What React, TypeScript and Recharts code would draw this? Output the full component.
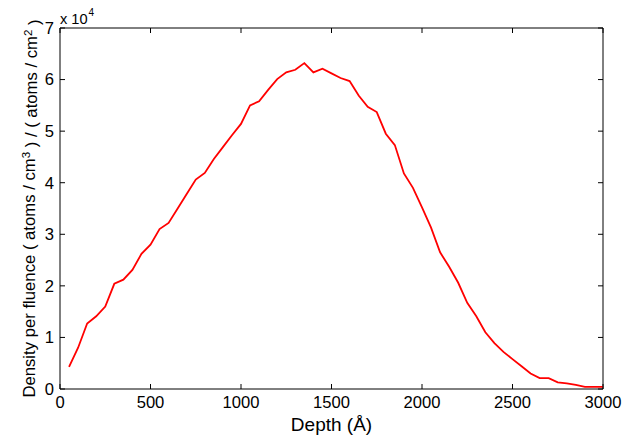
import { LineChart, Line, XAxis, YAxis, ReferenceArea, Label } from 'recharts'

// depth in Å, density in units of 1e4
const depth = [
  50, 100, 150, 200, 250, 300, 350, 400, 450, 500,
  550, 600, 650, 700, 750, 800, 850, 900, 950, 1000,
  1050, 1100, 1150, 1200, 1250, 1300, 1350, 1400, 1450, 1500,
  1550, 1600, 1650, 1700, 1750, 1800, 1850, 1900, 1950, 2000,
  2050, 2100, 2150, 2200, 2250, 2300, 2350, 2400, 2450, 2500,
  2550, 2600, 2650, 2700, 2750, 2800, 2850, 2900, 2950, 3000,
]
const densityE4 = [
  0.43, 0.8, 1.27, 1.41, 1.6, 2.04, 2.12, 2.31, 2.62, 2.8,
  3.1, 3.22, 3.5, 3.78, 4.06, 4.19, 4.46, 4.69, 4.92, 5.14,
  5.5, 5.58, 5.8, 6.01, 6.14, 6.19, 6.32, 6.14, 6.21, 6.12,
  6.03, 5.97, 5.69, 5.47, 5.37, 4.95, 4.73, 4.18, 3.9, 3.52,
  3.13, 2.65, 2.37, 2.06, 1.67, 1.41, 1.1, 0.89, 0.72, 0.58,
  0.44, 0.3, 0.21, 0.21, 0.13, 0.11, 0.08, 0.04, 0.04, 0.04,
]
const xTicks = [0, 500, 1000, 1500, 2000, 2500, 3000]
const yTicks = [0, 1, 2, 3, 4, 5, 6, 7]

const data = depth.map((d, i) => ({ depth: d, density: densityE4[i] }))

const FONT = 'Arial, "Liberation Sans", Helvetica, sans-serif'
const TOP = 28
const BOTTOM = 389
const LEFT = 60
const RIGHT = 603
const TICK = 5

const XTick = (props: any) => {
  const { x, y, payload } = props
  return (
    <g>
      <line x1={x} x2={x} y1={BOTTOM} y2={BOTTOM - TICK} stroke="#000" />
      <line x1={x} x2={x} y1={TOP} y2={TOP + TICK} stroke="#000" />
      <text x={x} y={y} dy="0.71em" textAnchor="middle" fontSize={16.6} fill="#000" fontFamily={FONT}>
        {payload.value}
      </text>
    </g>
  )
}

const YTick = (props: any) => {
  const { x, y, payload } = props
  return (
    <g>
      <line x1={LEFT} x2={LEFT + TICK} y1={y} y2={y} stroke="#000" />
      <line x1={RIGHT} x2={RIGHT - TICK} y1={y} y2={y} stroke="#000" />
      <text x={x} y={y} dy="0.355em" textAnchor="end" fontSize={16.6} fill="#000" fontFamily={FONT}>
        {payload.value}
      </text>
    </g>
  )
}

const YLabel = (props: any) => {
  const { viewBox } = props
  const cx = 35
  const cy = viewBox.y + viewBox.height / 2
  return (
    <g fontFamily={FONT} fill="#000">
      <text x={cx} y={cy} transform={`rotate(-90 ${cx} ${cy})`} textAnchor="middle" fontSize={16.7}>
        Density per fluence ( atoms / cm
        <tspan dy="-0.45em" fontSize={11.5}>3</tspan>
        <tspan dy="0.45em"> ) / ( atoms / cm</tspan>
        <tspan dy="-0.45em" fontSize={11.5}>2</tspan>
        <tspan dy="0.45em"> )</tspan>
      </text>
      <text x={LEFT} y={24} fontSize={14.6}>
        x 10
        <tspan dx="1" dy="-0.85em" fontSize={10}>4</tspan>
      </text>
    </g>
  )
}

const XLabel = (props: any) => {
  const { viewBox } = props
  return (
    <text x={viewBox.x + viewBox.width / 2} y={431} textAnchor="middle" fontSize={19} fill="#000" fontFamily={FONT}>
      Depth (Å)
    </text>
  )
}

export default function App() {
  return (
    <div style={{ position: 'absolute', left: 0, top: 0, width: 627, height: 436, background: '#fff' }}>
      <LineChart width={627} height={436} data={data} margin={{ top: TOP, right: 627 - RIGHT, bottom: 17, left: 20 }}>
        <XAxis
          dataKey="depth"
          type="number"
          domain={[0, 3000]}
          ticks={xTicks}
          interval={0}
          height={30}
          tickSize={0}
          tickMargin={7}
          axisLine={false}
          tick={<XTick />}
        >
          <Label content={<XLabel />} />
        </XAxis>
        <YAxis
          type="number"
          domain={[0, 7]}
          ticks={yTicks}
          interval={0}
          width={40}
          tickSize={0}
          tickMargin={6}
          axisLine={false}
          tick={<YTick />}
        >
          <Label content={<YLabel />} />
        </YAxis>
        <ReferenceArea x1={0} x2={3000} y1={0} y2={7} fill="none" fillOpacity={0} stroke="#000" strokeWidth={1} strokeOpacity={1} />
        <Line
          dataKey="density"
          type="linear"
          stroke="#ff0000"
          strokeWidth={1.8}
          dot={false}
          isAnimationActive={false}
        />
      </LineChart>
    </div>
  )
}
